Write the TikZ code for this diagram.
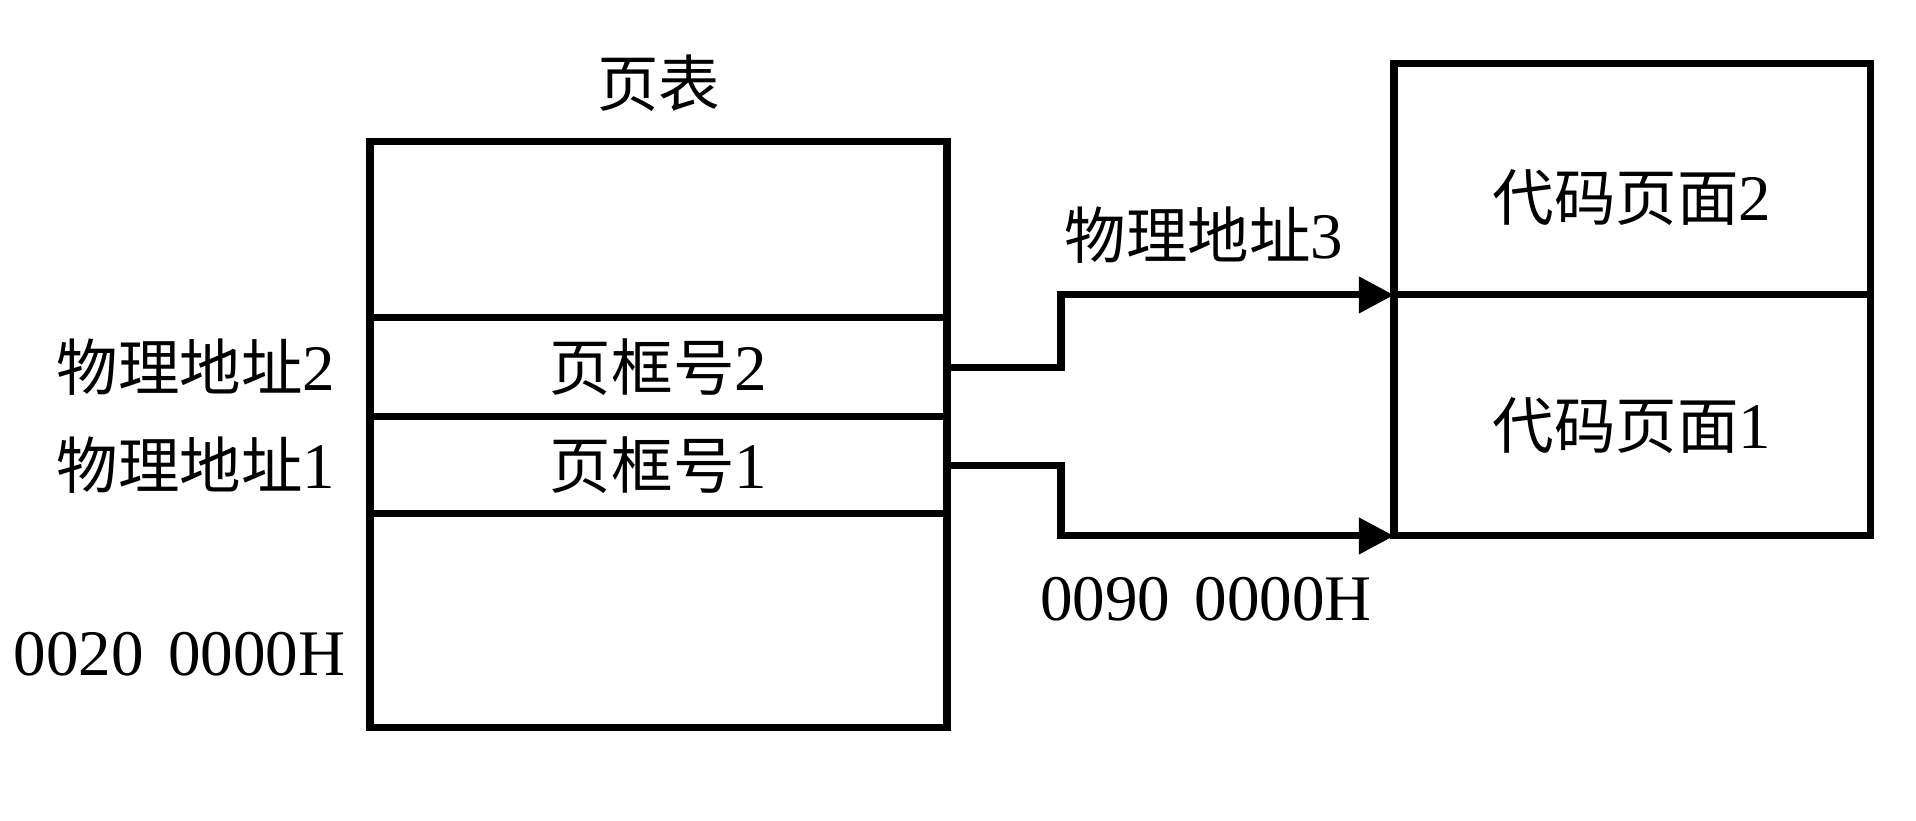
\documentclass[tikz,border=0pt]{standalone}
\usepackage{fontspec}
\setmainfont{Liberation Serif}
\newfontfamily\cjk{Noto Sans CJK SC}
\usetikzlibrary{positioning, arrows.meta, calc}

\newcommand{\zh}[1]{{\cjk\fontsize{17.5pt}{21pt}\selectfont #1}}
\newcommand{\gap}{\hspace{0.38em}}

\begin{document}
\begin{tikzpicture}[
  font=\fontsize{18.5pt}{22pt}\selectfont,
  cell/.style={draw, line width=2pt, outer sep=0pt, inner sep=0pt,
    minimum width=5.77cm},
  page/.style={draw, line width=2pt, outer sep=0pt, inner sep=0pt,
    minimum width=4.76cm},
  tag/.style={inner sep=0pt},
  link/.style={-{Triangle[length=10pt, width=10pt]}, line width=2pt}
]
\useasboundingbox (0,0) rectangle (19.16,8.21);

% --- the page table, one cell under the other ---
\node[cell, minimum height=1.76cm] (top) at (6.585,5.91) {};
\node[cell, minimum height=0.99cm, below=0pt of top] (frame2) {\zh{页框号}2};
\node[cell, minimum height=0.97cm, below=0pt of frame2] (frame1) {\zh{页框号}1};
\node[cell, minimum height=2.14cm, below=0pt of frame1] (bottom) {};
\node[tag, above=0.3cm of top] (title) {\zh{页表}};

% addresses on the left of the table
\node[tag, left=0.34cm of frame2] (addr2) {\zh{物理地址}2};
\node[tag, left=0.34cm of frame1] (addr1) {\zh{物理地址}1};
\node[tag, anchor=east] (base) at (3.46,1.67) {0020\gap0000H};

% --- the code pages in memory ---
\node[page, minimum height=2.31cm] (code2) at (16.32,6.415) {};
\node[page, minimum height=2.41cm, below=0pt of code2] (code1) {};
\node[tag] (text2) at ([yshift=-0.18cm]code2.center) {\zh{代码页面}2};
\node[tag] (text1) at ([yshift=-0.1cm]code1.center) {\zh{代码页面}1};

% frame numbers point at the pages
\coordinate (jog) at (10.61,0);
\draw[link] (frame2.east) -- (frame2.east -| jog) |- (code2.south west);
\draw[link] (frame1.east) -- (frame1.east -| jog) |- (code1.south west);

\node[tag] (addr3) at (12.04,5.86) {\zh{物理地址}3};
\node[tag] (start) at (12.06,2.22) {0090\gap0000H};

\end{tikzpicture}
\end{document}
